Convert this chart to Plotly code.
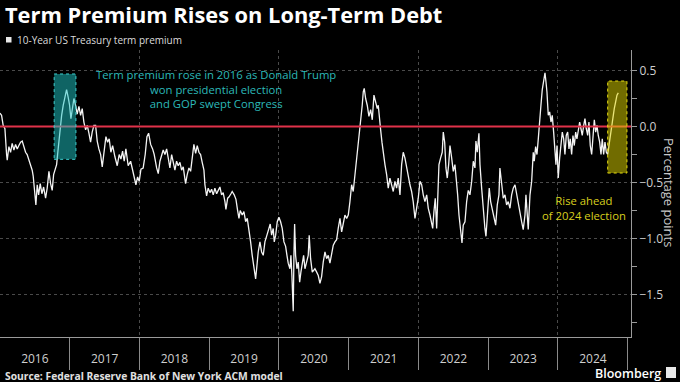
import pandas as pd
import plotly.graph_objects as go

# ---------------- data ----------------
# time as decimal years, value in percentage points
t_a = [2016.000, 2016.024, 2016.047, 2016.072, 2016.096, 2016.105, 2016.129, 2016.153, 2016.176, 2016.201,
       2016.225, 2016.248, 2016.272, 2016.297, 2016.320, 2016.344, 2016.368, 2016.391, 2016.416, 2016.440,
       2016.463, 2016.477, 2016.497, 2016.516, 2016.535, 2016.555, 2016.578, 2016.602, 2016.627, 2016.655,
       2016.678, 2016.703, 2016.727, 2016.750, 2016.770, 2016.793, 2016.813, 2016.827, 2016.846, 2016.860,
       2016.885, 2016.908, 2016.932, 2016.956, 2016.979, 2016.999, 2017.018, 2017.042, 2017.061, 2017.085,
       2017.108, 2017.133, 2017.157, 2017.180, 2017.204, 2017.229, 2017.252, 2017.276, 2017.300, 2017.323,
       2017.348, 2017.372, 2017.395, 2017.419, 2017.444, 2017.467, 2017.491, 2017.520, 2017.544, 2017.567,
       2017.591, 2017.616, 2017.649, 2017.682, 2017.710, 2017.735, 2017.759, 2017.782, 2017.806, 2017.839,
       2017.874, 2017.903, 2017.925, 2017.950, 2017.974, 2017.997, 2018.022, 2018.054, 2018.083, 2018.108,
       2018.132, 2018.161, 2018.189, 2018.212, 2018.247, 2018.270]
v_a = [0.12, 0.10, 0.01, -0.02, -0.25, -0.30, -0.18, -0.23, -0.15, -0.21,
       -0.16, -0.20, -0.17, -0.14, -0.13, -0.19, -0.23, -0.25, -0.30, -0.34,
       -0.39, -0.44, -0.55, -0.70, -0.52, -0.61, -0.51, -0.60, -0.54, -0.64,
       -0.55, -0.40, -0.51, -0.57, -0.43, -0.39, -0.34, -0.25, -0.14, 0.00,
       0.10, 0.19, 0.26, 0.33, 0.26, 0.19, 0.07, 0.17, 0.25, 0.19,
       0.11, 0.18, 0.10, 0.16, 0.04, -0.03, 0.01, -0.06, -0.14, -0.05,
       0.01, 0.01, -0.13, -0.20, -0.25, -0.36, -0.23, -0.09, -0.14, -0.11,
       -0.23, -0.17, -0.27, -0.35, -0.25, -0.29, -0.22, -0.31, -0.20, -0.35,
       -0.31, -0.40, -0.44, -0.52, -0.45, -0.49, -0.38, -0.37, -0.25, -0.09,
       -0.06, -0.16, -0.20, -0.25, -0.37, -0.42]

t_b = [2018.294, 2018.318, 2018.341, 2018.366, 2018.390, 2018.413, 2018.437, 2018.462, 2018.485, 2018.509,
       2018.533, 2018.556, 2018.581, 2018.605, 2018.628, 2018.662, 2018.685, 2018.710, 2018.734, 2018.763,
       2018.781, 2018.806, 2018.829, 2018.853, 2018.877, 2018.900, 2018.925, 2018.939, 2018.963, 2018.986,
       2019.011, 2019.035, 2019.058, 2019.082, 2019.107, 2019.130, 2019.154, 2019.178, 2019.201, 2019.226,
       2019.240, 2019.265, 2019.283, 2019.312, 2019.330, 2019.359, 2019.384, 2019.408, 2019.427, 2019.445,
       2019.474, 2019.498, 2019.523, 2019.546, 2019.570, 2019.594, 2019.617, 2019.642, 2019.666, 2019.685,
       2019.703, 2019.728, 2019.752, 2019.775, 2019.799, 2019.828, 2019.857, 2019.875, 2019.895, 2019.918,
       2019.933, 2019.953, 2019.976, 2020.000, 2020.024, 2020.047, 2020.072, 2020.096, 2020.115, 2020.133,
       2020.158, 2020.172, 2020.186, 2020.205, 2020.215, 2020.225, 2020.239, 2020.258, 2020.277, 2020.297,
       2020.315, 2020.334, 2020.354, 2020.373, 2020.397, 2020.420, 2020.434, 2020.454, 2020.478]
v_b = [-0.31, -0.25, -0.21, -0.25, -0.20, -0.28, -0.37, -0.25, -0.32, -0.39,
       -0.31, -0.35, -0.32, -0.39, -0.36, -0.51, -0.43, -0.37, -0.40, -0.25,
       -0.16, -0.24, -0.17, -0.23, -0.25, -0.32, -0.39, -0.52, -0.62, -0.55,
       -0.59, -0.56, -0.61, -0.55, -0.60, -0.57, -0.54, -0.61, -0.59, -0.67,
       -0.74, -0.64, -0.63, -0.60, -0.58, -0.61, -0.65, -0.75, -0.82, -0.75,
       -0.79, -0.76, -0.85, -0.82, -0.91, -1.03, -1.15, -1.27, -1.36, -1.24,
       -1.12, -1.03, -1.12, -1.15, -1.03, -0.97, -0.91, -0.87, -0.97, -0.91,
       -1.03, -0.97, -0.85, -0.81, -0.85, -0.91, -1.03, -1.07, -1.15, -1.22,
       -1.27, -1.15, -1.33, -1.65, -1.15, -0.87, -1.15, -1.27, -1.21, -1.39,
       -1.30, -1.24, -1.15, -1.27, -1.21, -1.15, -0.97, -1.18, -1.30]

t_c = [2020.516, 2020.541, 2020.564, 2020.588, 2020.612, 2020.635, 2020.660, 2020.684, 2020.707, 2020.731,
       2020.756, 2020.779, 2020.803, 2020.827, 2020.850, 2020.875, 2020.899, 2020.922, 2020.946, 2020.971,
       2020.994, 2021.018, 2021.042, 2021.065, 2021.090, 2021.104, 2021.123, 2021.147, 2021.161, 2021.176,
       2021.194, 2021.209, 2021.223, 2021.243, 2021.266, 2021.290, 2021.315, 2021.338, 2021.362, 2021.386,
       2021.409, 2021.424, 2021.438, 2021.458, 2021.477, 2021.495, 2021.520, 2021.544, 2021.567, 2021.591,
       2021.616, 2021.639, 2021.663, 2021.687, 2021.710, 2021.735, 2021.759, 2021.782, 2021.806, 2021.831,
       2021.854, 2021.878, 2021.902, 2021.925, 2021.950, 2021.974, 2021.997, 2022.022, 2022.046, 2022.069,
       2022.093, 2022.118, 2022.141, 2022.165, 2022.189, 2022.204, 2022.222, 2022.241, 2022.261, 2022.280,
       2022.294, 2022.318, 2022.341, 2022.356, 2022.376, 2022.394, 2022.413, 2022.433, 2022.452, 2022.476,
       2022.499, 2022.523, 2022.548, 2022.562, 2022.581, 2022.605, 2022.624, 2022.642, 2022.667]
v_c = [-1.27, -1.30, -1.33, -1.40, -1.34, -1.21, -1.12, -1.18, -1.15, -1.22,
       -1.15, -1.06, -1.03, -1.01, -0.91, -0.82, -0.94, -0.85, -0.79, -0.82,
       -0.79, -0.67, -0.52, -0.58, -0.43, -0.39, -0.23, -0.08, 0.00, 0.10,
       0.19, 0.31, 0.34, 0.25, 0.19, 0.09, 0.15, 0.06, 0.28, 0.22,
       0.16, 0.19, 0.12, -0.03, -0.14, -0.25, -0.34, -0.43, -0.55, -0.46,
       -0.52, -0.58, -0.49, -0.55, -0.46, -0.61, -0.34, -0.23, -0.28, -0.37,
       -0.46, -0.52, -0.58, -0.67, -0.82, -0.73, -0.64, -0.49, -0.52, -0.61,
       -0.67, -0.61, -0.73, -0.79, -0.85, -0.91, -0.76, -0.64, -0.91, -0.61,
       -0.34, -0.28, -0.23, -0.05, -0.14, -0.37, -0.46, -0.34, -0.17, -0.28,
       -0.40, -0.34, -0.49, -0.61, -0.79, -0.97, -1.04, -0.88, -0.85]

t_d = [2022.691, 2022.714, 2022.738, 2022.763, 2022.786, 2022.810, 2022.824, 2022.843, 2022.867, 2022.882,
       2022.906, 2022.929, 2022.953, 2022.968, 2022.986, 2023.001, 2023.015, 2023.035, 2023.058, 2023.082,
       2023.107, 2023.130, 2023.154, 2023.168, 2023.193, 2023.216, 2023.240, 2023.264, 2023.287, 2023.312,
       2023.336, 2023.359, 2023.384, 2023.408, 2023.431, 2023.455, 2023.479, 2023.502, 2023.527, 2023.541,
       2023.560, 2023.574, 2023.599, 2023.623, 2023.646, 2023.660, 2023.680, 2023.699, 2023.718, 2023.738,
       2023.756, 2023.775, 2023.795, 2023.814, 2023.828, 2023.842, 2023.861, 2023.881, 2023.900, 2023.918,
       2023.938, 2023.957, 2023.971, 2023.986, 2024.004, 2024.024, 2024.043, 2024.062, 2024.082, 2024.100,
       2024.119, 2024.139, 2024.158, 2024.176, 2024.196, 2024.215, 2024.234, 2024.254, 2024.272, 2024.291,
       2024.311, 2024.330, 2024.348, 2024.369, 2024.387, 2024.406, 2024.426, 2024.444, 2024.463, 2024.483,
       2024.502, 2024.521, 2024.541, 2024.559, 2024.578, 2024.598, 2024.617, 2024.635, 2024.655, 2024.674,
       2024.693, 2024.713, 2024.731, 2024.750, 2024.770, 2024.789, 2024.807, 2024.827, 2024.846, 2024.865]
v_d = [-0.67, -0.57, -0.61, -0.49, -0.31, -0.37, -0.13, -0.23, -0.06, -0.34,
       -0.55, -0.76, -0.91, -0.98, -0.82, -0.64, -0.55, -0.67, -0.73, -0.79,
       -0.88, -0.70, -0.61, -0.37, -0.49, -0.64, -0.61, -0.70, -0.67, -0.73,
       -0.61, -0.55, -0.52, -0.61, -0.70, -0.76, -0.85, -0.92, -0.79, -0.61,
       -0.85, -0.92, -0.61, -0.49, -0.23, -0.31, -0.18, -0.25, -0.11, 0.10,
       0.19, 0.33, 0.40, 0.48, 0.40, 0.31, 0.10, 0.13, 0.04, 0.10,
       -0.05, -0.25, -0.34, -0.17, -0.46, -0.28, -0.14, -0.05, -0.11, -0.25,
       -0.08, -0.05, -0.20, -0.11, -0.25, -0.08, -0.17, -0.05, -0.11, -0.02,
       0.04, -0.02, -0.08, 0.01, 0.07, -0.02, -0.08, 0.04, -0.17, -0.25,
       -0.08, 0.06, -0.05, 0.01, -0.08, -0.14, -0.25, -0.11, -0.25, -0.14,
       -0.23, -0.25, -0.17, -0.08, -0.02, 0.09, 0.16, 0.22, 0.28, 0.30]

for t, v in ((t_a, v_a), (t_b, v_b), (t_c, v_c), (t_d, v_d)):
    assert len(t) == len(v), (len(t), len(v))

years_dec = t_a + t_b + t_c + t_d
values = v_a + v_b + v_c + v_d

title_text = "Term Premium Rises on Long-Term Debt"
legend_text = "10-Year US Treasury term premium"
note_2016 = "Term premium rose in 2016 as Donald Trump<br>won presidential election<br>and GOP swept Congress"
note_2024 = "Rise ahead<br>of 2024 election"
source_text = "Source: Federal Reserve Bank of New York ACM model"

# ---------------- helpers ----------------
BASE = pd.Timestamp("2016-01-01")


def to_date(y):
    return BASE + pd.Timedelta(days=(y - 2016.0) * 365.25)


dates = [to_date(y) for y in years_dec]

W, H = 680, 382
TOP, BOTTOM = 50, 337          # plot area in pixels
RIGHT = 631
PH = BOTTOM - TOP


def px(x):
    return x / W


def py(y):
    return (BOTTOM - y) / PH


x_range = [to_date(2016.0015), to_date(2025.047)]
y_range = [-1.879, 0.683]

FONT = "Open Sans"
GRID = "#4a4a4a"
AXIS = "#9a9a9a"
TICKTXT = "#cfcfcf"

fig = go.Figure()

fig.add_trace(go.Scatter(x=dates, y=values, mode="lines",
                         line=dict(color="#f4f4f4", width=1.3),
                         hoverinfo="skip", showlegend=False))
# invisible companions so the overlay axes (separators / 2-year grid) are drawn
for ax in ("x2", "x3"):
    fig.add_trace(go.Scatter(x=dates, y=values, mode="lines", xaxis=ax, yaxis="y",
                             line=dict(width=0, color="rgba(0,0,0,0)"), opacity=0,
                             hoverinfo="skip", showlegend=False))

fig.update_layout(
    width=W, height=H,
    paper_bgcolor="#000000", plot_bgcolor="#000000",
    margin=dict(l=0, r=0, t=TOP, b=H - BOTTOM, autoexpand=False),
    font=dict(family=FONT, color=TICKTXT),
    showlegend=False,
    hovermode=False,
    xaxis=dict(type="date", range=x_range, domain=[0, RIGHT / W], anchor="y",
               tick0="2016-01-01", dtick="M12", tickformat="%Y", ticklabelmode="period",
               ticks="outside", ticklen=11, tickcolor="rgba(0,0,0,0)",
               showgrid=False, zeroline=False, showline=True, linecolor=AXIS, linewidth=1,
               tickfont=dict(size=12, color=TICKTXT, family=FONT)),
    xaxis2=dict(type="date", range=x_range, overlaying="x", anchor="y", side="bottom",
                tick0="2016-01-01", dtick="M12", ticks="outside", ticklen=32,
                tickcolor="#8a8a8a", tickwidth=1, showticklabels=False,
                showgrid=False, zeroline=False, showline=False),
    xaxis3=dict(type="date", range=x_range, overlaying="x", anchor="y", side="bottom",
                tick0="2018-01-01", dtick="M24", ticks="", showticklabels=False,
                showgrid=True, gridcolor=GRID, griddash="dot", gridwidth=1,
                zeroline=False, showline=False),
    yaxis=dict(range=y_range, side="right", anchor="x",
               tick0=0, dtick=0.5, tickformat=".1f",
               ticks="outside", ticklen=5, tickcolor=AXIS,
               showline=True, linecolor=AXIS, linewidth=1,
               showgrid=True, gridcolor=GRID, griddash="dot", gridwidth=1,
               zeroline=False,
               minor=dict(dtick=0.25, ticks="outside", ticklen=5, tickcolor=AXIS, showgrid=False),
               tickfont=dict(size=12, color=TICKTXT, family=FONT)),
)

shapes = []
# zero line
shapes.append(dict(type="line", xref="x domain", yref="y", x0=0, x1=1, y0=0, y1=0,
                   line=dict(color="#e0324a", width=2), layer="above"))
# 2016 highlight box
shapes.append(dict(type="rect", xref="x", yref="y",
                   x0=to_date(2016.778), x1=to_date(2017.090), y0=-0.293, y1=0.469,
                   fillcolor="rgba(30,200,200,0.5)",
                   line=dict(color="#3fd0d0", width=1, dash="dot"), layer="above"))
# 2024 highlight box
shapes.append(dict(type="rect", xref="x", yref="y",
                   x0=to_date(2024.713), x1=to_date(2024.989), y0=-0.415, y1=0.406,
                   fillcolor="rgba(225,215,0,0.5)",
                   line=dict(color="#e6dc10", width=1, dash="dot"), layer="above"))
# legend swatch
shapes.append(dict(type="rect", xref="paper", yref="paper",
                   x0=px(6), x1=px(11.5), y0=py(42.5), y1=py(37),
                   fillcolor="#e8e8e8", line=dict(width=0)))
# Bloomberg glyph
shapes.append(dict(type="rect", xref="paper", yref="paper",
                   x0=px(666), x1=px(676), y0=py(378), y1=py(367),
                   fillcolor="#e8e8e8", line=dict(width=0)))
fig.update_layout(shapes=shapes)

ann = []
ann.append(dict(text="<b>" + title_text + "</b>", xref="paper", yref="paper",
                x=px(3), y=py(15), xanchor="left", yanchor="middle", showarrow=False,
                font=dict(size=21.8, color="#ffffff", family=FONT)))
ann.append(dict(text=legend_text, xref="paper", yref="paper",
                x=px(14.5), y=py(40), xanchor="left", yanchor="middle", showarrow=False,
                font=dict(size=10, color="#dcdcdc", family=FONT)))
ann.append(dict(text=note_2016, xref="paper", yref="paper",
                x=px(216), y=py(88.5), xanchor="center", yanchor="middle", showarrow=False,
                align="center", font=dict(size=11.3, color="#2cb9b9", family=FONT)))
ann.append(dict(text=note_2024, xref="paper", yref="paper",
                x=px(584), y=py(207.5), xanchor="center", yanchor="middle", showarrow=False,
                align="center", font=dict(size=11.3, color="#d8cf1e", family=FONT)))
ann.append(dict(text="Percentage points", xref="paper", yref="paper",
                x=px(669), y=py(192), xanchor="center", yanchor="middle", showarrow=False,
                textangle=90, font=dict(size=13, color="#c8c8c8", family=FONT)))
ann.append(dict(text="<b>" + source_text + "</b>", xref="paper", yref="paper",
                x=px(3), y=py(375.5), xanchor="left", yanchor="middle", showarrow=False,
                font=dict(size=10.3, color="#e0e0e0", family=FONT)))
ann.append(dict(text="Bloomberg", xref="paper", yref="paper",
                x=px(663), y=py(373), xanchor="right", yanchor="middle", showarrow=False,
                font=dict(size=12.5, color="#ffffff", family=FONT, weight=600)))
fig.update_layout(annotations=ann)

# the page body has a default 8px margin; remove it so the figure fills the window
fig.write_html("out.html", config={"displayModeBar": False, "staticPlot": True},
               post_script="document.body.style.margin='0';document.body.style.background='#000';")
